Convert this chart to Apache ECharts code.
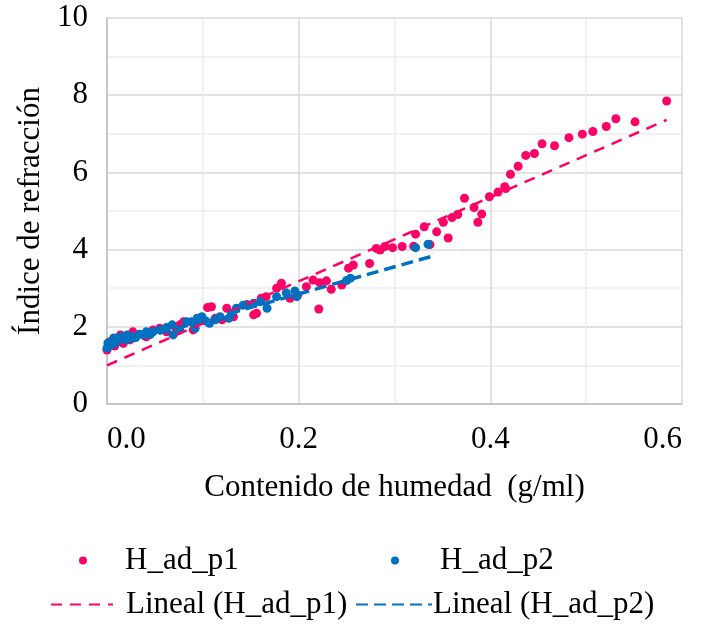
<!DOCTYPE html>
<html><head><meta charset="utf-8">
<script src="https://cdn.jsdelivr.net/npm/echarts@6/dist/echarts.min.js"></script>
<style>html,body{margin:0;padding:0;background:#fff}#c{width:704px;height:634px}</style>
</head><body><div id="c"></div>
<script>
// H_ad_p1 [humedad, indice]
const p1 = [[0.000,1.40],[0.003,1.61],[0.008,1.50],[0.014,1.79],[0.017,1.57],[0.024,1.66],[0.027,1.87],[0.038,1.79],[0.041,1.74],[0.048,1.92],[0.055,1.96],[0.062,1.87],[0.071,2.00],[0.076,2.05],[0.080,2.13],[0.090,1.92],[0.097,2.18],[0.105,2.50],[0.109,2.52],[0.113,2.22],[0.120,2.18],[0.125,2.48],[0.132,2.26],[0.146,2.58],[0.153,2.31],[0.156,2.35],[0.161,2.74],[0.166,2.78],[0.177,3.00],[0.182,3.13],[0.191,2.74],[0.199,2.82],[0.208,3.04],[0.215,3.21],[0.221,2.46],[0.222,3.14],[0.229,3.19],[0.234,2.97],[0.245,3.08],[0.252,3.52],[0.257,3.60],[0.274,3.64],[0.281,4.03],[0.285,3.99],[0.290,4.08],[0.298,4.05],[0.308,4.08],[0.320,4.09],[0.322,4.40],[0.331,4.59],[0.337,4.13],[0.344,4.46],[0.351,4.71],[0.356,4.30],[0.360,4.83],[0.366,4.91],[0.373,5.33],[0.383,5.09],[0.387,4.71],[0.391,4.92],[0.399,5.37],[0.408,5.49],[0.415,5.63],[0.416,5.58],[0.421,5.95],[0.429,6.16],[0.437,6.44],[0.446,6.49],[0.454,6.74],[0.467,6.69],[0.482,6.90],[0.496,6.99],[0.507,7.06],[0.521,7.19],[0.531,7.39],[0.551,7.31],[0.584,7.85]];
// H_ad_p2
const p2 = [[0.000,1.45],[0.001,1.58],[0.004,1.52],[0.007,1.71],[0.010,1.60],[0.014,1.74],[0.018,1.68],[0.021,1.79],[0.027,1.74],[0.030,1.72],[0.034,1.81],[0.041,1.87],[0.045,1.80],[0.048,1.87],[0.055,1.92],[0.062,1.98],[0.068,2.05],[0.069,1.79],[0.076,1.92],[0.083,2.13],[0.088,2.13],[0.092,1.96],[0.094,2.22],[0.099,2.26],[0.103,2.15],[0.107,2.09],[0.113,2.18],[0.118,2.26],[0.127,2.22],[0.130,2.35],[0.135,2.48],[0.142,2.56],[0.147,2.56],[0.153,2.61],[0.160,2.65],[0.167,2.48],[0.177,2.78],[0.187,2.88],[0.196,2.93],[0.198,2.78],[0.250,3.20],[0.254,3.26],[0.322,4.05],[0.335,4.14]];
// Lineal trend lines (endpoints)
const trend1 = [[0.000,1.00],[0.584,7.36]];
const trend2 = [[0.000,1.45],[0.338,3.82]];
const seriesNames = ['H_ad_p1','H_ad_p2','Lineal (H_ad_p1)','Lineal (H_ad_p2)'];
const xTicks = [0, 0.6, 0.2];
const yTicks = [0, 10, 2];

const PINK = '#FF0066', BLUE = '#0070C0';
const FONT = 'Liberation Serif';
const FS = 31;
const chart = echarts.init(document.getElementById('c'));
const legendBase = {textStyle:{fontFamily:FONT,fontSize:FS,color:'#000'},itemGap:0,selectedMode:false,padding:0};
chart.setOption({
  animation:false,
  grid:{left:107,right:22,top:18,bottom:230,outerBoundsMode:'none',containLabel:false},
  xAxis:{type:'value',min:xTicks[0],max:xTicks[1],interval:xTicks[2],
    name:'Contenido de humedad  (g/ml)',nameLocation:'middle',nameGap:68,
    nameTextStyle:{fontFamily:FONT,fontSize:FS,color:'#000'},
    axisLine:{show:true,lineStyle:{color:'#BFBFBF',width:1.5}},axisTick:{show:false},
    axisLabel:{fontFamily:FONT,fontSize:FS,color:'#000',margin:20,formatter:v=>v.toFixed(1),alignMinLabel:'left',alignMaxLabel:'right'},
    splitLine:{show:true,lineStyle:{color:'#D9D9D9',width:1.5}},
    minorTick:{show:false,splitNumber:2},
    minorSplitLine:{show:true,lineStyle:{color:'#EDEDED',width:1.5}}},
  yAxis:{type:'value',min:yTicks[0],max:yTicks[1],interval:yTicks[2],
    name:'Índice de refracción',nameLocation:'middle',nameGap:60,
    nameTextStyle:{fontFamily:FONT,fontSize:FS,color:'#000'},
    axisLine:{show:true,lineStyle:{color:'#BFBFBF',width:1.5}},axisTick:{show:false},
    axisLabel:{fontFamily:FONT,fontSize:FS,color:'#000',margin:19},
    splitLine:{show:true,lineStyle:{color:'#D9D9D9',width:1.5}},
    minorTick:{show:false,splitNumber:2},
    minorSplitLine:{show:true,lineStyle:{color:'#EDEDED',width:1.5}}},
  legend:[
    Object.assign({},legendBase,{data:[seriesNames[0]],left:79,top:545,icon:'circle',itemWidth:8,itemHeight:8,
      textStyle:Object.assign({},legendBase.textStyle,{padding:[0,0,0,33]})}),
    Object.assign({},legendBase,{data:[seriesNames[1]],left:391,top:545,icon:'circle',itemWidth:8,itemHeight:8,
      textStyle:Object.assign({},legendBase.textStyle,{padding:[0,0,0,36]})}),
    Object.assign({},legendBase,{data:[seriesNames[2]],left:50,top:589,itemWidth:62,itemHeight:14,
      itemStyle:{opacity:0},textStyle:Object.assign({},legendBase.textStyle,{padding:[0,0,0,8]})}),
    Object.assign({},legendBase,{data:[seriesNames[3]],left:355,top:589,itemWidth:76,itemHeight:14,
      itemStyle:{opacity:0},textStyle:Object.assign({},legendBase.textStyle,{padding:[0,0,0,-4]})})
  ],
  series:[
    {name:seriesNames[0],type:'scatter',data:p1,symbolSize:9,itemStyle:{color:PINK,opacity:1}},
    {name:seriesNames[1],type:'scatter',data:p2,symbolSize:9,itemStyle:{color:BLUE,opacity:1}},
    {name:seriesNames[2],type:'line',data:trend1,symbol:'none',lineStyle:{color:PINK,width:2.5,type:[11,8]},itemStyle:{color:PINK},z:3},
    {name:seriesNames[3],type:'line',data:trend2,symbol:'none',lineStyle:{color:BLUE,width:3.5,type:[12,6]},itemStyle:{color:BLUE},z:3}
  ]
});
</script></body></html>
